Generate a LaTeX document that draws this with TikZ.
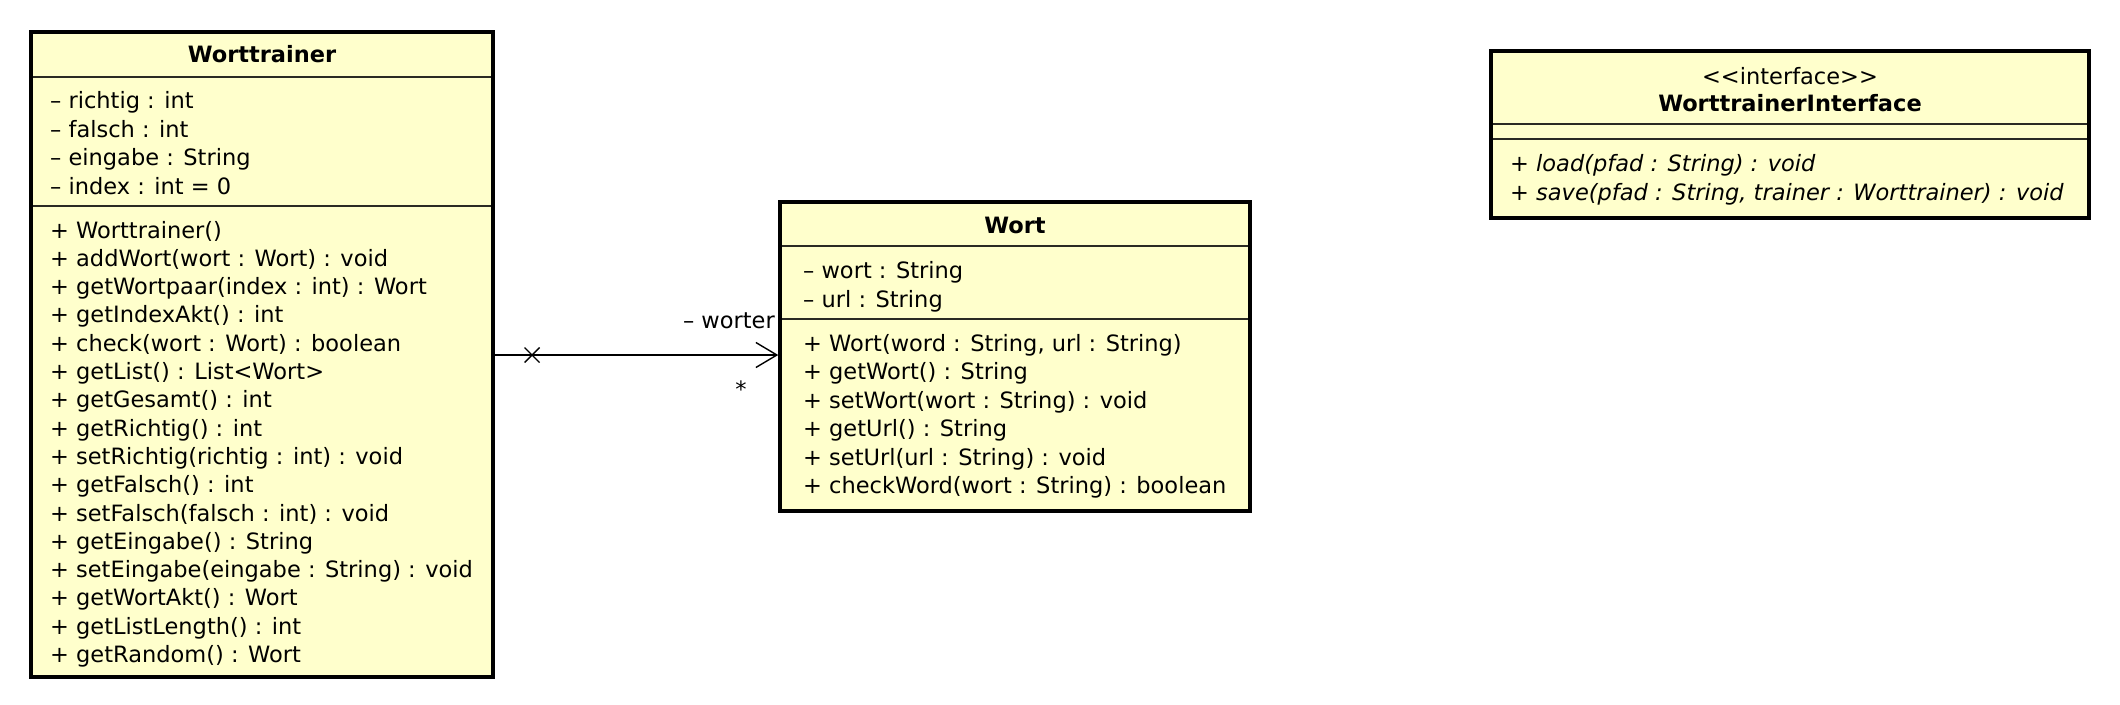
\documentclass[tikz,border=0pt]{standalone}
\usepackage{fontspec}
\setmainfont{DejaVu Sans}
\usetikzlibrary{arrows.meta}
\definecolor{umlfill}{HTML}{FFFFCC}
\definecolor{sepcol}{HTML}{2A2A22}
\begin{document}
\begin{tikzpicture}[x=1pt,y=-1pt,
  box/.style={draw=black, line width=3.5pt, fill=umlfill, inner sep=0pt},
  sepline/.style={draw=sepcol, line width=2pt},
  txt/.style={anchor=west, inner sep=0pt, font=\fontsize{22.5}{27}\selectfont, text height=16pt, text depth=5pt},
  ttl/.style={anchor=center, inner sep=0pt, font=\fontsize{22.5}{27}\selectfont\bfseries, text height=16pt, text depth=5pt},
  stereo/.style={anchor=center, inner sep=0pt, font=\fontsize{22.5}{27}\selectfont, text height=16pt, text depth=5pt},
  assoc/.style={draw=black, line width=1.4pt},
  lbl/.style={inner sep=0pt, font=\fontsize{22.5}{27}\selectfont, text height=16pt, text depth=5pt}]
\fill[white] (0,0) rectangle (2120,704);
\useasboundingbox (0,0) rectangle (2120,704);

% Worttrainer
\node[box, minimum width=462pt, minimum height=645pt] (wt) at (262,354.5) {};
\draw[sepline] (33,77) -- (491,77);
\draw[sepline] (33,206) -- (491,206);
\node[ttl] (wtt) at (262,57) {Worttrainer};
\foreach \t [count=\i from 0] in {– richtig : int, – falsch : int, – eingabe : String, – index : int = 0}
  \node[txt] (wta\i) at (50,103+\i*28.5) {\t};
\foreach \t [count=\i from 0] in {+ Worttrainer(), + addWort(wort : Wort) : void, + getWortpaar(index : int) : Wort, + getIndexAkt() : int, + check(wort : Wort) : boolean, + getList() : List<Wort>, + getGesamt() : int, + getRichtig() : int, + setRichtig(richtig : int) : void, + getFalsch() : int, + setFalsch(falsch : int) : void, + getEingabe() : String, + setEingabe(eingabe : String) : void, + getWortAkt() : Wort, + getListLength() : int, + getRandom() : Wort}
  \node[txt] (wtm\i) at (50,232.5+\i*28.3) {\t};

% Wort
\node[box, minimum width=470pt, minimum height=309pt] (wo) at (1015,356.5) {};
\draw[sepline] (782,246) -- (1248,246);
\draw[sepline] (782,319) -- (1248,319);
\node[ttl] (wot) at (1015,228) {Wort};
\foreach \t [count=\i from 0] in {– wort : String, – url : String}
  \node[txt] (woa\i) at (803,273+\i*28.5) {\t};
\foreach \t [count=\i from 0] in {{+ Wort(word : String, url : String)}, + getWort() : String, + setWort(wort : String) : void, + getUrl() : String, + setUrl(url : String) : void, + checkWord(wort : String) : boolean}
  \node[txt] (wom\i) at (803,346+\i*28.4) {\t};

% WorttrainerInterface
\node[box, minimum width=598pt, minimum height=167pt] (wi) at (1790,134.5) {};
\draw[sepline] (1493,124) -- (2087,124);
\draw[sepline] (1493,139) -- (2087,139);
\node[stereo] (wis) at (1790,79) {{<}{<}interface{>}{>}};
\node[ttl] (wit) at (1790,106) {WorttrainerInterface};
\node[txt, font=\fontsize{22.5}{27}\selectfont\itshape] (wim0) at (1510,166) {+ load(pfad : String) : void};
\node[txt, font=\fontsize{22.5}{27}\selectfont\itshape] (wim1) at (1510,195) {+ save(pfad : String, trainer : Worttrainer) : void};

% association
\coordinate (ly) at (0,355);
\draw[assoc, -{Straight Barb[length=21pt,width=25pt,line width=1.4pt]}] (wt.east |- ly) -- (wo.west |- ly);
\coordinate (cx) at (532,355);
\draw[assoc] (cx) +(-7.5,-7.5) -- +(7.5,7.5) (cx) +(-7.5,7.5) -- +(7.5,-7.5);
\node[lbl, anchor=east] (rl) at (775,323) {– worter};
\node[lbl] (mul) at (741,392) {*};
\end{tikzpicture}
\end{document}
